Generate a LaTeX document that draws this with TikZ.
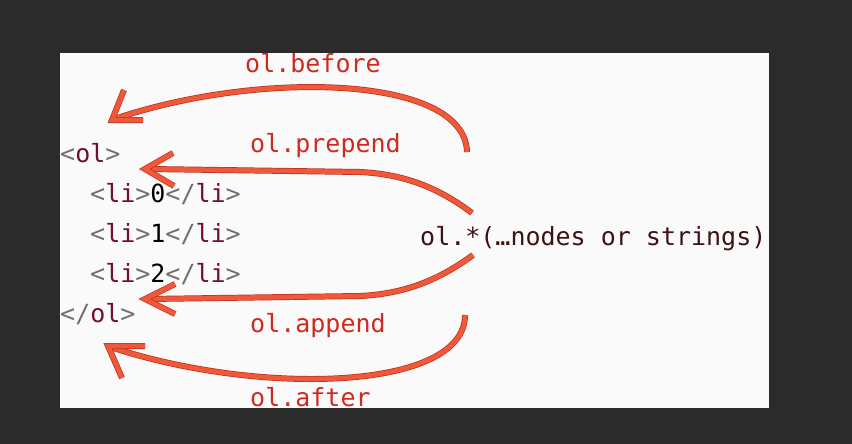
\documentclass[tikz,border=0pt]{standalone}
\usepackage{fontspec}
\usetikzlibrary{calc}
\setmonofont{DejaVu Sans Mono}
\definecolor{bgdark}{HTML}{2B2B2B}
\definecolor{panel}{HTML}{FAFAFA}
\definecolor{tagb}{HTML}{707070}
\definecolor{tagn}{HTML}{740D33}
\definecolor{lbl}{HTML}{CF2A1F}
\definecolor{fn}{HTML}{3E1212}
\definecolor{arr}{HTML}{F0583A}
\definecolor{arredge}{HTML}{B8301E}
\newcommand{\Bk}[1]{\textcolor{tagb}{#1}}
\newcommand{\Tn}[1]{\textcolor{tagn}{#1}}
\begin{document}
\begin{tikzpicture}[x=1pt,y=-1pt,
  code/.style={font=\ttfamily\fontsize{25}{25}\selectfont, anchor=base west, inner sep=0pt},
  lab/.style={code, text=lbl},
  arrline/.style={draw=arr, line width=4.6pt, line join=miter,
     preaction={draw=arredge, line width=6pt}},
  barb/.style={arrline, line join=miter, miter limit=10}]
\useasboundingbox (0,0) rectangle (852,444);
\fill[bgdark] (0,0) rectangle (852,444);
\fill[panel] (60,53) rectangle (769,408);

% code lines
\node[code] (olo) at (60,162) {\Bk{<}\Tn{ol}\Bk{>}};
\node[code] (li0) at (90,202) {\Bk{<}\Tn{li}\Bk{>}0\Bk{</}\Tn{li}\Bk{>}};
\node[code] (li1) at (90,242) {\Bk{<}\Tn{li}\Bk{>}1\Bk{</}\Tn{li}\Bk{>}};
\node[code] (li2) at (90,282) {\Bk{<}\Tn{li}\Bk{>}2\Bk{</}\Tn{li}\Bk{>}};
\node[code] (olc) at (60,322) {\Bk{</}\Tn{ol}\Bk{>}};
\node[code, text=fn] (fnc) at (420,245) {ol.*(…nodes or strings)};

% labels
\node[lab] (lbefore)  at (245,73)  {ol.before};
\node[lab] (lprepend) at (250,152) {ol.prepend};
\node[lab] (lappend)  at (250,332) {ol.append};
\node[lab] (lafter)   at (250,406) {ol.after};

% coordinates
\coordinate (s1) at (467,152); \coordinate (t1) at (112,120);
\coordinate (b1a) at (124,90); \coordinate (b1b) at (143,120);
\coordinate (s2) at (472,213); \coordinate (m2) at (360,172); \coordinate (t2) at (145,169);
\coordinate (b2a) at (173,153); \coordinate (b2b) at (174,186);
\coordinate (s3) at (473,255); \coordinate (m3) at (360,296); \coordinate (t3) at (145,299);
\coordinate (b3a) at (175,284); \coordinate (b3b) at (175,314);
\coordinate (s4) at (465,315); \coordinate (t4) at (108,346);
\coordinate (b4a) at (145,346); \coordinate (b4b) at (122,378);

% arrows
\draw[arrline] (s1) .. controls (465,75) and (260,70) .. ($(t1)+(4,-1.5)$);
\draw[barb] (b1a) -- (t1) -- (b1b);
\draw[arrline] (s2) .. controls (435,185) and (400,174) .. (m2) -- ($(t2)+(4,0)$);
\draw[barb] (b2a) -- (t2) -- (b2b);
\draw[arrline] (s3) .. controls (435,283) and (400,294) .. (m3) -- ($(t3)+(4,0)$);
\draw[barb] (b3a) -- (t3) -- (b3b);
\draw[arrline] (s4) .. controls (465,391) and (260,396) .. ($(t4)+(4,1.5)$);
\draw[barb] (b4a) -- (t4) -- (b4b);
\end{tikzpicture}
\end{document}
